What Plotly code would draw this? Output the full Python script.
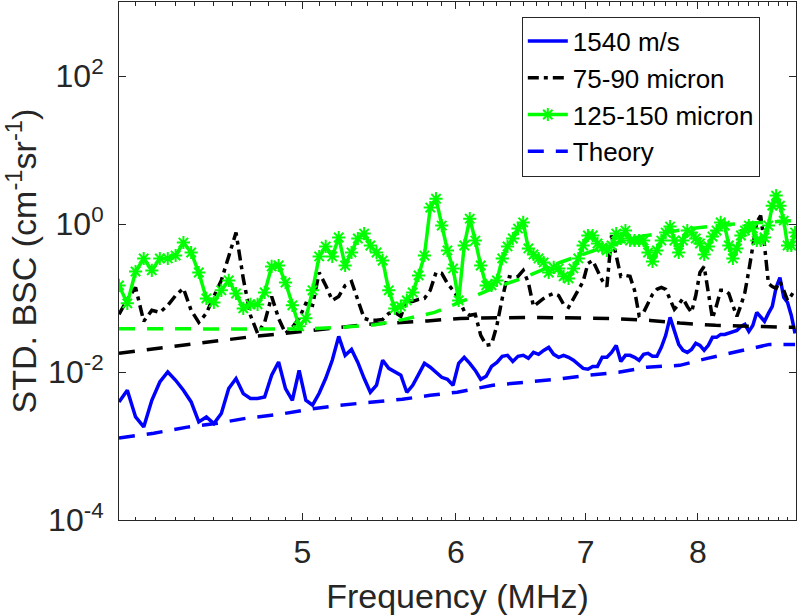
import plotly.graph_objects as go

FONT = "Liberation Sans, Arial, Helvetica, sans-serif"

# Frequency samples (MHz)
freq = [4.02, 4.06, 4.10, 4.14, 4.18, 4.22, 4.26, 4.30, 4.34, 4.38, 4.42, 4.46, 4.50, 4.54, 4.58,
        4.62, 4.66, 4.70, 4.74, 4.78, 4.82, 4.86, 4.90, 4.94, 4.98, 5.02, 5.06, 5.10, 5.14, 5.18,
        5.22, 5.26, 5.30, 5.34, 5.38, 5.42, 5.46, 5.50, 5.54, 5.58, 5.62, 5.66, 5.70, 5.74, 5.78,
        5.82, 5.86, 5.90, 5.94, 5.98, 6.02, 6.06, 6.10, 6.14, 6.18, 6.22, 6.26, 6.30, 6.34, 6.38,
        6.42, 6.46, 6.50, 6.54, 6.58, 6.62, 6.66, 6.70, 6.74, 6.78, 6.82, 6.86, 6.90, 6.94, 6.98,
        7.02, 7.06, 7.10, 7.14, 7.18, 7.22, 7.26, 7.30, 7.34, 7.38, 7.42, 7.46, 7.50, 7.54, 7.58,
        7.62, 7.66, 7.70, 7.74, 7.78, 7.82, 7.86, 7.90, 7.94, 7.98, 8.02, 8.06, 8.10, 8.14, 8.18,
        8.22, 8.26, 8.30, 8.34, 8.38, 8.42, 8.46, 8.50, 8.54, 8.58, 8.62, 8.66, 8.70, 8.74, 8.78,
        8.82, 8.86, 8.90, 8.94, 8.98]

bsc_1540 = [3.94e-3, 5.66e-3, 2.47e-3, 1.81e-3, 4.15e-3, 7.33e-3, 1.00e-2, 7.73e-3, 5.66e-3, 3.94e-3,
            2.12e-3, 2.47e-3, 2.01e-3, 2.75e-3, 5.97e-3, 8.15e-3, 5.11e-3, 4.38e-3, 4.38e-3, 4.60e-3,
            9.03e-3, 1.365e-2, 5.97e-3, 4.15e-3, 1.054e-2,
            4.15e-3, 3.56e-3, 5.16e-3, 8.22e-3, 1.44e-2, 3.03e-2, 1.68e-2, 2.02e-2, 1.35e-2, 8.22e-3,
            5.32e-3, 6.62e-3, 1.44e-2, 1.12e-2, 9.9e-3, 9.03e-3, 5.32e-3, 6.62e-3, 9.31e-3, 1.31e-2,
            1.16e-2, 9.9e-3, 8.48e-3, 7.97e-3, 6.62e-3,
            1.31e-2, 1.58e-2, 1.31e-2, 1.05e-2, 7.97e-3, 8.75e-3, 1.19e-2, 1.35e-2, 1.63e-2, 1.68e-2,
            1.39e-2, 1.63e-2, 1.68e-2, 1.53e-2, 1.84e-2, 1.73e-2, 1.96e-2, 2.15e-2, 1.73e-2, 1.58e-2,
            1.68e-2, 1.58e-2, 1.44e-2, 1.27e-2, 1.12e-2,
            1.09e-2, 1.19e-2, 1.19e-2, 1.58e-2, 1.58e-2, 1.84e-2, 2.29e-2, 1.39e-2, 1.68e-2, 1.68e-2,
            1.58e-2, 1.44e-2, 1.73e-2, 1.79e-2, 1.63e-2, 1.63e-2, 2.15e-2, 3.13e-2, 5.47e-2, 3.65e-2,
            2.36e-2, 1.96e-2, 1.84e-2, 2.02e-2, 2.44e-2,
            2.29e-2, 1.96e-2, 2.29e-2, 2.94e-2, 2.94e-2, 3.22e-2, 3.22e-2, 3.33e-2, 3.54e-2, 3.65e-2,
            4.13e-2, 4.40e-2, 3.54e-2, 4.26e-2, 6.39e-2, 5.64e-2, 4.83e-2, 6.19e-2, 7.69e-2, 1.39e-1,
            1.89e-1, 1.02e-1, 8.71e-2, 5.82e-2, 3.33e-2]

bsc_75_90 = [0.0601, 0.0957, 0.139, 0.0484, 0.0681, 0.0639, 0.0795, 0.108, 0.135, 0.0681,
             0.0469, 0.0620, 0.105, 0.173, 0.364, 0.767, 0.184, 0.0583, 0.0333, 0.0469,
             0.105, 0.0531, 0.0333, 0.0401, 0.0531,
             0.0846, 0.0795, 0.221, 0.148, 0.0928, 0.105, 0.148, 0.167, 0.0928, 0.0531,
             0.0499, 0.0499, 0.0514, 0.0620, 0.0639, 0.0565, 0.0928, 0.0900, 0.0957, 0.0988,
             0.127, 0.221, 0.215, 0.157, 0.127,
             0.0988, 0.0660, 0.0583, 0.0601, 0.0313, 0.0230, 0.0237, 0.0427, 0.0988, 0.196,
             0.190, 0.196, 0.236, 0.162, 0.0770, 0.0872, 0.0988, 0.108, 0.115, 0.108,
             0.0820, 0.0747, 0.0988, 0.131, 0.167,
             0.293, 0.321, 0.236, 0.173, 0.143, 0.699, 0.375, 0.196, 0.202, 0.196,
             0.127, 0.0583, 0.0639, 0.0872, 0.112, 0.131, 0.139, 0.131, 0.0928, 0.0702,
             0.0820, 0.0988, 0.0770, 0.0639, 0.108,
             0.221, 0.267, 0.119, 0.0531, 0.0795, 0.127, 0.127, 0.115, 0.0795, 0.0565,
             0.0795, 0.119, 0.236, 0.512, 1.05, 1.30, 0.512, 0.157, 0.143, 0.135,
             0.167, 0.127, 0.0928, 0.108, 0.131]

bsc_125_150 = [0.148, 0.0846, 0.228, 0.342, 0.236, 0.342, 0.342, 0.375, 0.562, 0.412,
               0.221, 0.0988, 0.0872, 0.127, 0.173, 0.115, 0.0724, 0.0820, 0.0820, 0.119,
               0.267, 0.275, 0.162, 0.0795, 0.0414,
               0.0531, 0.127, 0.364, 0.497, 0.364, 0.657, 0.275, 0.412, 0.637, 0.743,
               0.512, 0.412, 0.321, 0.127, 0.0724, 0.0770, 0.0928, 0.119, 0.202, 0.375,
               1.67, 2.20, 0.953, 0.439, 0.251,
               0.0928, 0.512, 1.18, 0.598, 0.275, 0.148, 0.148, 0.173, 0.342, 0.497,
               0.637, 0.868, 1.05, 0.467, 0.387, 0.342, 0.302, 0.221, 0.259, 0.251,
               0.196, 0.184, 0.251, 0.342, 0.512,
               0.699, 0.699, 0.545, 0.481, 0.439, 0.512, 0.743, 0.637, 0.816, 0.598,
               0.598, 0.598, 0.598, 0.412, 0.312, 0.439, 0.598, 0.767, 0.924, 0.598,
               0.412, 0.598, 0.816, 0.767, 0.637,
               0.545, 0.387, 0.497, 0.677, 0.816, 1.05, 0.953, 0.512, 0.342, 0.467,
               0.699, 0.816, 0.953, 0.868, 0.598, 0.598, 0.657, 0.953, 1.77, 2.42,
               1.77, 1.11, 0.512, 0.512, 0.767]

# Theory curves
theory_1540_f = [4.02, 4.19, 4.36, 4.52, 4.68, 4.87, 5.04, 5.23, 5.42, 5.63, 5.82, 6.01, 6.27,
                 6.52, 6.76, 7.02, 7.28, 7.53, 7.83, 8.09, 8.40, 8.71, 8.98]
theory_1540 = [0.00128, 0.00149, 0.00180, 0.00203, 0.00238, 0.00269, 0.00314, 0.00356, 0.00390,
               0.00428, 0.00485, 0.00533, 0.00662, 0.00726, 0.00797, 0.00903, 0.00991, 0.0116,
               0.0123, 0.0153, 0.0190, 0.0236, 0.0236]

theory_75_90_f = [4.02, 4.36, 4.72, 5.01, 5.40, 5.80, 6.03, 6.55, 7.21, 7.56, 7.83, 8.17, 8.47, 8.98]
theory_75_90 = [0.0179, 0.0236, 0.0303, 0.0354, 0.0440, 0.0490, 0.0530, 0.0547, 0.0530, 0.0498,
                0.0458, 0.0427, 0.0413, 0.0401]

theory_125_150_f = [4.02, 4.98, 5.26, 5.45, 5.64, 5.85, 6.06, 6.27, 6.49, 6.79, 7.12, 7.47, 7.93,
                    8.28, 8.62, 8.98]
theory_125_150 = [0.0385, 0.0380, 0.0405, 0.0434, 0.0514, 0.0638, 0.0927, 0.135, 0.184, 0.302,
                  0.467, 0.677, 0.868, 0.983, 1.05, 1.11]

x_ticks = [5, 6, 7, 8]
x_minor = [4.1, 4.2, 4.3, 4.4, 4.5, 4.6, 4.7, 4.8, 4.9, 5.1, 5.2, 5.3, 5.4, 5.5, 5.6, 5.7, 5.8, 5.9,
           6.1, 6.2, 6.3, 6.4, 6.5, 6.6, 6.7, 6.8, 6.9, 7.1, 7.2, 7.3, 7.4, 7.5, 7.6, 7.7, 7.8, 7.9,
           8.1, 8.2, 8.3, 8.4, 8.5, 8.6, 8.7, 8.8, 8.9]
y_ticks = [1e-4, 1e-2, 1, 1e2]
y_ticktext = ["10<sup>-4</sup>", "10<sup>-2</sup>", "10<sup>0</sup>", "10<sup>2</sup>"]

BLUE = "rgb(0,0,255)"
GREEN = "rgb(0,255,0)"
BLACK = "rgb(0,0,0)"
LW = 3.5

fig = go.Figure()
fig.add_trace(go.Scatter(x=freq, y=bsc_1540, mode="lines", name="1540 m/s",
                         line=dict(color=BLUE, width=LW)))
fig.add_trace(go.Scatter(x=freq, y=bsc_75_90, mode="lines", name="75-90 micron",
                         line=dict(color=BLACK, width=LW, dash="11px,5px,4px,5px")))
fig.add_trace(go.Scatter(x=freq, y=bsc_125_150, mode="lines+markers", name="125-150 micron",
                         line=dict(color=GREEN, width=LW),
                         marker=dict(symbol="asterisk-open", size=11,
                                     line=dict(color=GREEN, width=2), color=GREEN)))
fig.add_trace(go.Scatter(x=theory_1540_f, y=theory_1540, mode="lines", name="Theory",
                         line=dict(color=BLUE, width=LW, dash="16px,12px")))
fig.add_trace(go.Scatter(x=theory_75_90_f, y=theory_75_90, mode="lines", showlegend=False,
                         line=dict(color=BLACK, width=LW, dash="16px,12px")))
fig.add_trace(go.Scatter(x=theory_125_150_f, y=theory_125_150, mode="lines", showlegend=False,
                         line=dict(color=GREEN, width=LW, dash="16px,12px")))

axis_common = dict(showgrid=False, zeroline=False, showline=True, linecolor="#262626",
                   linewidth=1, mirror="allticks", ticks="inside", tickcolor="#262626",
                   automargin=False,
                   tickfont=dict(family=FONT, size=32, color="#262626"))

fig.update_xaxes(type="log", range=[0.60423, 0.95376], tickvals=x_ticks,
                 ticktext=[str(v) for v in x_ticks], ticklen=7, tickwidth=1,
                 minor=dict(tickvals=x_minor, ticks="inside", ticklen=3.5, tickcolor="#262626",
                            tickwidth=1),
                 title=dict(text="Frequency (MHz)", font=dict(family=FONT, size=34, color="#262626"),
                            standoff=14),
                 ticklabelstandoff=4,
                 **axis_common)
fig.update_yaxes(type="log", range=[-4, 3], tickvals=y_ticks, ticktext=y_ticktext,
                 ticklen=7, tickwidth=1,
                 title=dict(text="STD. BSC (cm<sup>-1</sup>sr<sup>-1</sup>)",
                            font=dict(family=FONT, size=34, color="#262626"), standoff=8),
                 ticklabelstandoff=8,
                 **axis_common)

fig.update_layout(
    width=800, height=616,
    margin=dict(l=119, r=4, t=2, b=96, autoexpand=False),
    paper_bgcolor="white", plot_bgcolor="white",
    font=dict(family=FONT, color="black"),
    legend=dict(x=0.595, y=0.972, xanchor="left", yanchor="top", bgcolor="white",
                bordercolor="#262626", borderwidth=1, itemwidth=40, tracegroupgap=0,
                font=dict(family=FONT, size=26, color="black")),
    showlegend=True,
)

fig.write_html("out.html", config={"displayModeBar": False},
               post_script="document.body.style.margin='0px';document.body.style.overflow='hidden';")
